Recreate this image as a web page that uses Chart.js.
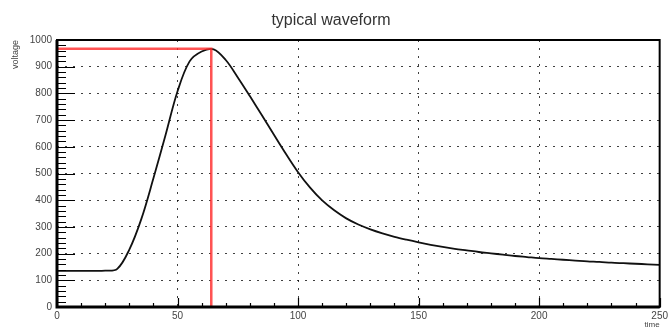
<!DOCTYPE html>
<html>
<head>
<meta charset="utf-8">
<script src="https://cdn.jsdelivr.net/npm/chart.js@4/dist/chart.umd.min.js"></script>
<style>
  html, body { margin: 0; padding: 0; background: #fff; }
  #c { display: block; }
</style>
</head>
<body>
<canvas id="c" width="671" height="331"></canvas>
<script>
// waveform samples, every 5 time units
const times = [0, 5, 10, 15, 20, 25, 30, 35, 40, 45, 50, 55, 60, 65, 70, 75, 80, 85, 90, 95,
  100, 105, 110, 115, 120, 125, 130, 135, 140, 145, 150, 155, 160, 165, 170, 175, 180, 185,
  190, 195, 200, 205, 210, 215, 220, 225, 230, 235, 240, 245, 250];
const voltage = [135, 135, 135, 135, 136, 143, 215, 330, 482, 643, 808, 920, 957, 965, 925,
  860, 790, 718, 645, 573, 505, 447, 399, 362, 332, 309, 291, 276, 263, 252, 242, 233, 225,
  218, 212, 206, 201, 196, 191, 187, 183, 180, 177, 174, 171, 169, 166, 164, 162, 160, 158];

// red marker at the maximum
const peakTime = 64;
const peakVoltage = 967;

const xTicks = [0, 50, 100, 150, 200, 250];
const yTicks = [0, 100, 200, 300, 400, 500, 600, 700, 800, 900, 1000];
const xMinorStep = 10;
const yMinorStep = 20;

const wave = times.map((t, i) => ({ x: t, y: voltage[i] }));
const marker = [
  { x: 0, y: peakVoltage },
  { x: peakTime, y: peakVoltage },
  { x: peakTime, y: 0 }
];

// ROOT style frame with inward ticks
const framePlugin = {
  id: 'frame',
  afterDatasetsDraw(chart) {
    const { ctx, chartArea: a, scales: { x, y } } = chart;
    ctx.save();
    ctx.strokeStyle = '#000';
    ctx.lineWidth = 1.2;
    ctx.beginPath();
    for (let v = 0; v <= 1000; v += yMinorStep) {
      const py = Math.round(y.getPixelForValue(v)) + 0.5;
      const len = v % 100 === 0 ? 18 : 9;
      ctx.moveTo(a.left, py);
      ctx.lineTo(a.left + len, py);
    }
    for (let v = 0; v <= 250; v += xMinorStep) {
      const px = Math.round(x.getPixelForValue(v)) + 0.5;
      const len = v % 50 === 0 ? 9 : 4;
      ctx.moveTo(px, a.bottom);
      ctx.lineTo(px, a.bottom - len);
    }
    ctx.stroke();

    ctx.lineWidth = 2;
    ctx.strokeRect(a.left, a.top, a.right - a.left, a.bottom - a.top);
    ctx.lineWidth = 3;
    ctx.beginPath();
    ctx.moveTo(a.left, a.top);
    ctx.lineTo(a.left, a.bottom);
    ctx.lineTo(a.right, a.bottom);
    ctx.stroke();
    ctx.restore();
  }
};

new Chart(document.getElementById('c'), {
  type: 'line',
  data: {
    datasets: [
      {
        label: 'marker',
        data: marker,
        borderColor: 'rgba(255, 40, 40, 0.8)',
        borderWidth: 2.5,
        pointRadius: 0,
        tension: 0
      },
      {
        label: 'waveform',
        data: wave,
        borderColor: '#111',
        borderWidth: 1.8,
        pointRadius: 0,
        tension: 0.35
      }
    ]
  },
  options: {
    responsive: false,
    animation: false,
    devicePixelRatio: 1,
    layout: { padding: { left: 0, right: 9, top: 0, bottom: 0 } },
    plugins: {
      legend: { display: false },
      tooltip: { enabled: false },
      title: {
        display: true,
        text: 'typical waveform',
        color: '#333',
        font: { family: 'Liberation Sans', size: 16, weight: 'normal' },
        padding: { top: 11, bottom: 9.8 }
      }
    },
    scales: {
      x: {
        type: 'linear',
        min: 0,
        max: 250,
        afterBuildTicks: s => { s.ticks = xTicks.map(v => ({ value: v })); },
        afterFit: s => { s.height = 24; },
        grid: { color: 'rgba(0,0,0,0.75)', lineWidth: 1, drawTicks: false },
        border: { display: false, dash: [2, 6] },
        ticks: {
          padding: 3,
          color: '#444',
          maxRotation: 0,
          font: { family: 'Liberation Sans', size: 10 },
          callback: v => String(v)
        },
        title: {
          display: true,
          text: 'time',
          align: 'end',
          color: '#444',
          font: { family: 'Liberation Sans', size: 8 },
          padding: { top: 0, bottom: 1.5 }
        }
      },
      y: {
        min: 0,
        max: 1000,
        afterBuildTicks: s => { s.ticks = yTicks.map(v => ({ value: v })); },
        afterFit: s => { s.width = 57; },
        grid: { color: 'rgba(0,0,0,0.75)', lineWidth: 1, drawTicks: false },
        border: { display: false, dash: [2, 6] },
        ticks: {
          padding: 5,
          color: '#444',
          font: { family: 'Liberation Sans', size: 10 },
          callback: v => String(v)
        },
        title: {
          display: true,
          text: 'voltage',
          align: 'end',
          color: '#444',
          font: { family: 'Liberation Sans', size: 9 },
          padding: { top: 10, bottom: 0 }
        }
      }
    }
  },
  plugins: [framePlugin]
});
</script>
</body>
</html>
